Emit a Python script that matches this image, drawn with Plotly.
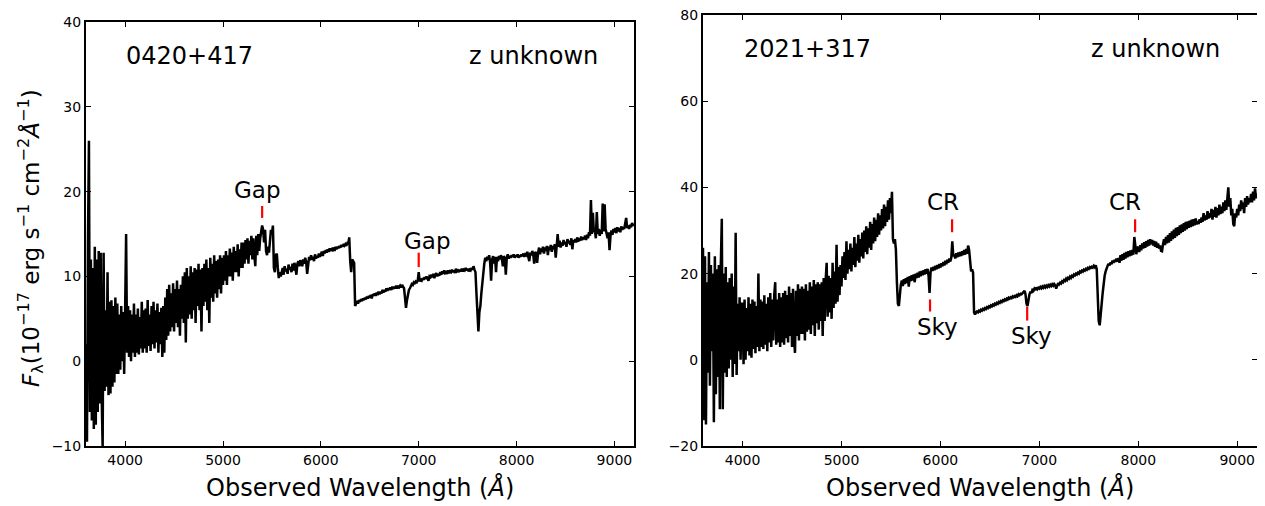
import numpy as np
import plotly.graph_objects as go

# ---------------- data ----------------
WAVE_START = 3600
WAVE_STEP = 10

# 0420+417 flux (1e-17 erg/s/cm2/A), sampled every 10 A from 3600 to 9200
FLUX_0420 = [
    2, -9.5, 14, 26, -6, 12, -7, 11, -8, 13.5, -7.5, 12, -6, 13, -5, 12.8, -4, -10, 12.8, -3.5,
    6, -3, 10.5, -4, 7, -3.8, 7.2, -3, 6.5, -2.5, 7.5, -1.5, 6.8, -1.5, 5.5, -1, 6.5, 0, 5.8, -1.5,
    6, 15, 1, 6.5, 0.5, 6, 0, 5.5, 1, 6.8, 0.5, 5.5, 1, 6.2, 0.8, 5.2, 1.5, 7, 1, 6,
    1.5, 6.2, 1, 7.2, 1.8, 5.5, 1.2, 6.5, 2, 7, 1.5, 6, 2.2, 6.8, 1, 5.8, 2, 6.3, 0.5, 6.5,
    1, 7.5, 2.5, 8.5, 3, 9, 3.5, 8, 4, 9.2, 3.5, 8.5, 4.5, 9.5, 4, 8.5, 3, 9, 5, 10,
    4.5, 10.5, 2.2, 11, 5, 10, 5.5, 11.2, 5, 10.5, 6, 11, 4.5, 10.8, 6.5, 11.5, 6, 10.8, 3.5, 11,
    6.5, 11.5, 7, 12, 6, 11, 4.5, 12.2, 7.5, 11.5, 7, 12.5, 8, 11.8, 7.5, 12, 8.5, 12.5, 8, 12.2,
    9, 12.5, 9.5, 13, 9, 12.5, 10, 13.3, 10, 12.8, 9.5, 13.5, 10.5, 13, 10.5, 13.8, 10, 13.2, 11, 14,
    11, 14, 11.5, 14.3, 12, 14.5, 11.5, 14.2, 12.5, 14.8, 12, 14.5, 12.5, 11.2, 14.8, 12.5, 15, 13, 14.5, 15.5,
    16, 15.5, 14, 15.5, 13, 12.5, 13.5, 12.8, 14.5, 15.5, 15, 16, 11, 10.5, 12.5, 12.7, 11, 9.8, 10.5, 10,
    10.5, 11, 10.2, 11.2, 10.6, 10.9, 10.3, 11.4, 10.8, 11.1, 10.5, 11.5, 10.7, 11.6, 11, 10.2, 11.5, 11.8, 11.2, 11.9,
    11.6, 11.2, 12, 11.5, 12.2, 11.7, 10.3, 11.8, 12.3, 11.9, 12.5, 12, 12.3, 11.8, 12.6, 12.1, 12.4, 12.2, 12.7, 12.3,
    12.6, 12.9, 12.4, 13, 12.7, 13.1, 12.8, 13.2, 12.9, 13.3, 13, 13.2, 13.1, 13.4, 13, 13.5, 13.2, 13.5, 13.3, 13.6,
    13.4, 13.7, 13.5, 13.7, 13.6, 13.8, 13.6, 13.9, 13.8, 14.6, 11.8, 10.5, 12, 11.8, 11.6, 6.5, 6.8, 7.1, 6.8, 7.2,
    7, 7.3, 7.1, 7.4, 7.2, 7.5, 7.3, 7.6, 7.4, 7.7, 7.5, 7.8, 7.4, 7.9, 7.7, 8, 7.7, 8.1, 7.8, 8.2,
    7.9, 8.2, 8, 8.4, 8.1, 8.4, 8.2, 8.6, 8.3, 8.6, 8.4, 8.7, 8.4, 8.8, 8.5, 8.8, 8.6, 8.9, 8.6, 8.8,
    8.7, 8.9, 8.7, 9, 8.8, 8.6, 7.5, 6.3, 7.2, 8, 8.4, 8.6, 8.9, 9.1, 9, 9.3, 9.2, 9.4, 9.3, 9.5,
    10.5, 9.4, 9.6, 9.5, 9.8, 9.6, 9.9, 9.7, 10, 9.8, 9.5, 10, 9.9, 10.2, 9.9, 10.3, 9.8, 10.2, 10.4, 10,
    10.3, 10.1, 10.5, 10.2, 10.6, 10.3, 10.7, 10.4, 10.5, 10.3, 10.7, 10.4, 10.6, 10.5, 10.8, 10.5, 10.7, 10.4, 10.9, 10.6,
    10.7, 10.5, 10.8, 10.6, 10.9, 10.6, 10.8, 10.7, 11, 10.7, 10.9, 10.6, 10.8, 10.7, 11, 10.8, 11.2, 10.8, 10.5, 8,
    5, 3.5, 5.8, 6.5, 8, 9.5, 10.5, 11.5, 12.2, 11.8, 12.3, 12, 12.5, 11.6, 9.5, 12, 12.4, 11.5, 12.3, 10.5,
    12.3, 11.8, 12.4, 12, 12.5, 12.1, 11.2, 12.4, 12.1, 10.2, 12.2, 12.6, 12.1, 12.4, 12.2, 12.5, 12.3, 12.6, 12.2, 12.5,
    12.3, 12.6, 12.2, 12.5, 12.3, 12.6, 12.4, 12.7, 12.3, 12.6, 12.5, 12.9, 12.3, 11.8, 12.8, 12.5, 13, 12.6, 11.5, 12.9,
    12.7, 11.6, 12.8, 13.4, 12.6, 13.3, 12.9, 13.5, 12.7, 13.4, 13, 13.6, 12.5, 13.5, 13.1, 13.7, 12.9, 13.6, 13.2, 13.8,
    12.2, 13.8, 15, 13.5, 14.2, 13.4, 14, 13.6, 14.3, 13.8, 14.1, 13.5, 14.4, 13.9, 14.2, 13.7, 14.5, 13.2, 14.3, 14,
    14.4, 14, 14.6, 14.1, 14.5, 14.2, 14.7, 14.3, 14.6, 14.4, 14.8, 14.3, 14.9, 14.5, 15.2, 14.8, 19, 15, 17.5, 15.2,
    15.5, 14.5, 17.6, 15, 15.6, 14.8, 15.5, 15, 18.6, 15.3, 18.5, 15.6, 15, 14.5, 15.2, 13.1, 14.8, 15.4, 14.9, 15.6,
    15.2, 15.7, 15.1, 15.8, 15.3, 15.7, 15.2, 15.9, 15.5, 15.8, 15.6, 16.2, 16.9, 15.7, 16, 15.6, 16.1, 15.8, 16.3, 16,
    16.2,
]

# 2021+317 flux, same sampling
FLUX_2021 = [
    26, -14, 24, -15, 18, -3, 25, -6, 22, 2, 20, -14.5, 24, -8, 21, -4, 22, -11.5, 22, 32.7,
    -11.5, 20, -3, 21.5, -4, 18, -2, 19, 0, 20, -4, 17, -1, 29.5, -3.5, 13, 2, 14.5, 0, 13,
    13, -1, 14, 0, 12, 2, 14.5, 1, 13, 0.5, 14, 2.5, 13.5, 1.5, 12.5, 3, 20, 2, 14, 3,
    13.5, 2.5, 15, 3.5, 13, 2, 14.5, 4, 15.5, 3, 14, 4.5, 15, 18, 3.5, 14, 4, 15.5, 3, 14.5,
    4, 15.5, 3.5, 16, 5, 15, 4, 17, 5.5, 15.5, 3, 16.5, 5, 1.6, 16, 5.5, 17.5, 4.5, 16.5, 6,
    17, 6, 16.5, 4.5, 17.5, 6.5, 16, 7, 18, 6, 17, 8, 18.5, 5.5, 17.5, 8.5, 18, 7, 17.5, 9,
    18, 5.5, 19, 9, 18.5, 22.5, 10, 19.5, 11, 19, 9.5, 22.5, 12, 20.5, 13, 26.7, 13.5, 21.5, 15, 22,
    17, 24, 19, 25, 18.5, 27.5, 20, 25.5, 21, 27, 20.5, 26, 22, 28.5, 21.5, 27, 23, 29, 22.5, 28,
    24, 29.5, 23.5, 30, 25, 31, 24.5, 30.5, 26, 32, 25.5, 31.5, 27, 33, 27.5, 32.5, 28.5, 34, 29, 33.5,
    30, 35, 30.5, 36, 31, 35.5, 32, 37, 32.5, 37.5, 34, 39, 28, 27, 28, 25.5, 18, 13, 12.5, 16.5,
    17.5, 18.4, 17.1, 18.7, 17.6, 18.9, 17.8, 19.2, 17, 19.4, 18.3, 19.6, 18.4, 19.8, 18, 20, 19, 20.2, 19.1, 20.5,
    19.4, 20.6, 19.6, 20.8, 19.8, 21, 20, 21.1, 19.5, 15.5, 20.3, 21.4, 20.6, 21.6, 20.8, 21.8, 21, 22, 21.2, 22.2,
    21.4, 22.4, 21.7, 22.7, 21.9, 23, 22.2, 23.2, 22.5, 23.5, 22.8, 23.7, 27.5, 24, 24.4, 23.5, 24.7, 23.8, 24.9, 24,
    25, 24.1, 25.2, 24.3, 25.5, 24.4, 25.7, 24.6, 26.5, 25.5, 21.5, 20.5, 21, 20.2, 11, 10.5, 11, 11.2, 11, 11.4,
    11.2, 11.6, 11.4, 11.8, 11.6, 12, 11.8, 12.2, 12, 12.4, 12.2, 12.6, 12.4, 12.8, 12.6, 13, 12.8, 13.2, 13, 13.4,
    13.2, 13.6, 13.4, 13.8, 13.6, 14, 13.8, 14.2, 14, 14.4, 14.2, 14.5, 14.3, 14.7, 14.5, 14.8, 14.6, 15, 14.8, 15.2,
    15, 15.3, 15.2, 15.5, 15.6, 16, 15.2, 13, 12.5, 14.5, 15.2, 15.8, 15.5, 16.2, 16, 16.5, 16.2, 16.8, 16.4, 16.7,
    16.5, 16.9, 16.6, 17, 16.7, 17.1, 16.8, 17.2, 16.9, 17.3, 17, 17.4, 17.1, 17.5, 17.2, 17.6, 17.3, 16.5, 17.4, 17.8,
    17.5, 17.9, 17.7, 18.2, 18, 18.5, 18.3, 18.8, 18.5, 19, 18.8, 19.3, 19, 19.5, 19.3, 19.8, 19.6, 20, 19.8, 20.2,
    20, 20.5, 20.3, 20.7, 20.5, 20.9, 20.7, 21.1, 20.9, 21.3, 21.1, 21.5, 21.3, 21.6, 21.4, 21.8, 21.5, 21.9, 21, 15,
    9, 8, 11.5, 13, 15.5, 18, 19.5, 20.5, 21.5, 21.8, 22.3, 21.9, 22.6, 22.2, 23, 22.5, 23.2, 22.7, 23.5, 22.8,
    23.6, 22.5, 24.3, 23, 24.5, 23.2, 24.8, 23.5, 25, 23.8, 25.2, 24, 25.4, 24.2, 25.5, 24.4, 28.5, 25.5, 24.5, 26,
    26.2, 25, 26.6, 25.4, 27, 25.8, 27.3, 26, 27.5, 26.3, 27.8, 26.5, 28, 26.8, 27.8, 26.5, 27.6, 26.2, 27.4, 26,
    27, 25.8, 26.5, 25.3, 25.2, 26.8, 28, 26.6, 28.5, 27, 28.9, 27.2, 29.4, 27.6, 29.8, 28, 30.2, 28.3, 30.6, 28.7,
    30.8, 29, 31.2, 29.4, 31.4, 29.7, 31.7, 30, 32, 30.3, 32.1, 30.6, 32.3, 30.8, 32.5, 31, 32.6, 31.2, 32.8, 31.4,
    32.2, 31.5, 32.6, 31.8, 33, 32, 34, 32.3, 33.5, 32.5, 34.5, 32.8, 34, 33, 35, 32.5, 34.8, 33.2, 35.5, 33,
    35.2, 33.5, 36, 33.8, 35.5, 34, 36.5, 34.5, 37, 34.8, 38.5, 40, 35.5, 37.5, 33.5, 35, 31.5, 31, 34, 33,
    35, 33.5, 36, 34.5, 37, 35, 36.5, 34, 37.5, 35.5, 38, 36, 37.5, 36.5, 38.5, 36.5, 39, 37, 39.8, 37.5,
    38.5,
]

PANEL_NAMES = ["0420+417", "2021+317"]
REDSHIFT_TEXT = ["z unknown", "z unknown"]
X_RANGE = [3600, 9200]
Y_RANGES = [[-10, 40], [-20, 80]]
X_TICKS = [4000, 5000, 6000, 7000, 8000, 9000]
Y_TICKS = [[-10, 0, 10, 20, 30, 40], [-20, 0, 20, 40, 60, 80]]

# feature markers: label, marker wavelength, marker bottom, marker top, label x, label y
MARKS_0420 = {
    "label": ["Gap", "Gap"],
    "wave": [5400, 7000],
    "y0": [16.9, 11.1],
    "y1": [18.3, 12.8],
    "lx": [5350, 7090],
    "ly": [20.2, 14.2],
}
MARKS_2021 = {
    "label": ["CR", "Sky", "Sky", "CR"],
    "wave": [6118, 5895, 6877, 7968],
    "y0": [29.6, 11.2, 9.1, 29.6],
    "y1": [32.6, 14.0, 12.3, 32.6],
    "lx": [6030, 5975, 6925, 7870],
    "ly": [36.6, 7.6, 5.6, 36.6],
}

# ---------------- figure ----------------
PAGE_OFFSET = 8              # default page margin of the html body
W, H = 1265 - PAGE_OFFSET, 506 - PAGE_OFFSET
FONT = "DejaVu Sans"


def px_x(p):
    return (p - PAGE_OFFSET) / W


def px_y(p):
    return 1 - (p - PAGE_OFFSET) / H


fig = go.Figure()

panels = [
    (FLUX_0420, MARKS_0420, "x", "y"),
    (FLUX_2021, MARKS_2021, "x2", "y2"),
]

for i, (flux, marks, xa, ya) in enumerate(panels):
    flux = np.array(flux, dtype=float)
    wave = WAVE_START + WAVE_STEP * np.arange(len(flux))
    fig.add_trace(go.Scatter(
        x=wave, y=flux, mode="lines",
        line=dict(color="black", width=2.5),
        xaxis=xa, yaxis=ya, showlegend=False, hoverinfo="skip",
    ))
    mx, my = [], []
    for w, a, b in zip(marks["wave"], marks["y0"], marks["y1"]):
        mx += [w, w, None]
        my += [a, b, None]
    fig.add_trace(go.Scatter(
        x=mx, y=my, mode="lines", line=dict(color="red", width=2.2),
        xaxis=xa, yaxis=ya, showlegend=False, hoverinfo="skip",
    ))
    for lab, lx, ly in zip(marks["label"], marks["lx"], marks["ly"]):
        fig.add_annotation(
            x=lx, y=ly, xref=xa, yref=ya, text=lab, showarrow=False,
            font=dict(family=FONT, size=23, color="black"),
            xanchor="center", yanchor="middle",
        )
    yr = Y_RANGES[i]
    fig.add_annotation(
        x=3990, y=yr[0] + 0.92 * (yr[1] - yr[0]), xref=xa, yref=ya,
        text=PANEL_NAMES[i], showarrow=False,
        font=dict(family=FONT, size=24, color="black"),
        xanchor="left", yanchor="middle",
    )
    fig.add_annotation(
        x=8850, y=yr[0] + 0.92 * (yr[1] - yr[0]), xref=xa, yref=ya,
        text=REDSHIFT_TEXT[i], showarrow=False,
        font=dict(family=FONT, size=24, color="black"),
        xanchor="right", yanchor="middle",
    )

axis_common = dict(
    showline=True, linewidth=2, linecolor="black", mirror="allticks",
    ticks="inside", ticklen=5, tickwidth=1, tickcolor="black",
    showgrid=False, zeroline=False, automargin=False, ticklabeloverflow="allow",
    tickfont=dict(family=FONT, size=14, color="black"),
)

fig.update_layout(
    template="none",
    width=W, height=H,
    margin=dict(l=0, r=0, t=0, b=0, pad=0, autoexpand=False),
    paper_bgcolor="white", plot_bgcolor="white",
    xaxis=dict(domain=[px_x(86), px_x(634)], range=X_RANGE, tickvals=X_TICKS,
               anchor="y", **axis_common),
    yaxis=dict(domain=[px_y(446), px_y(22)], range=Y_RANGES[0], tickvals=Y_TICKS[0],
               anchor="x", **axis_common),
    xaxis2=dict(domain=[px_x(703), px_x(1257)], range=X_RANGE, tickvals=X_TICKS,
                anchor="y2", **axis_common),
    yaxis2=dict(domain=[px_y(446), px_y(15)], range=Y_RANGES[1], tickvals=Y_TICKS[1],
                anchor="x2", **axis_common),
)

xtitle = "Observed Wavelength (<i>Å</i>)"
for cx in [(86 + 634) / 2, (703 + 1257) / 2]:
    fig.add_annotation(
        x=px_x(cx), y=px_y(487), xref="paper", yref="paper", text=xtitle,
        showarrow=False, font=dict(family=FONT, size=24, color="black"),
        xanchor="center", yanchor="middle",
    )

ytitle = ("<i>F</i><sub>λ</sub>(10<sup>−17</sup> erg s<sup>−1</sup> "
          "cm<sup>−2</sup><i>Å</i><sup>−1</sup>)")
fig.add_annotation(
    x=px_x(31), y=px_y(238), xref="paper", yref="paper", text=ytitle,
    showarrow=False, textangle=-90, font=dict(family=FONT, size=23, color="black"),
    xanchor="center", yanchor="middle",
)

fig.write_html("out.html")
